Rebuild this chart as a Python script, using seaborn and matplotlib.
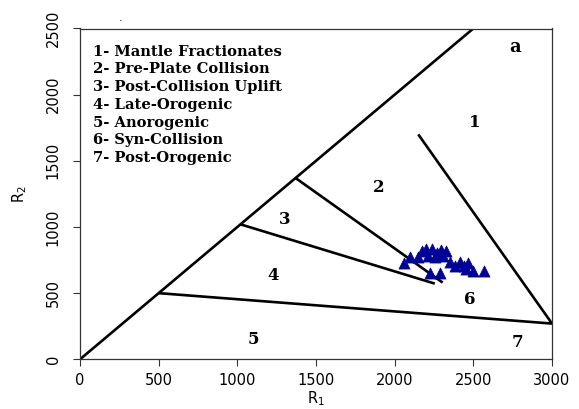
import matplotlib
matplotlib.use("Agg")
import matplotlib.pyplot as plt
import seaborn as sns
import pandas as pd

# Sample data (R1, R2)
r1_values = [2059, 2097, 2148, 2174, 2199, 2237, 2269, 2295, 2326, 2212, 2256, 2307,
             2225, 2288, 2383, 2415, 2441, 2466, 2453, 2498, 2568, 2352]
r2_values = [729, 775, 775, 820, 835, 835, 805, 827, 820, 782, 775, 782,
             653, 653, 706, 737, 706, 729, 684, 669, 669, 737]

# Field boundaries (R1 list, R2 list)
boundary_outer_r1 = [0, 2500]
boundary_outer_r2 = [0, 2500]
boundary_1_r1 = [2150, 3000]
boundary_1_r2 = [1700, 270]
boundary_2_r1 = [1370, 2305]
boundary_2_r2 = [1370, 580]
boundary_3_r1 = [1020, 2255]
boundary_3_r2 = [1020, 572]
boundary_4_r1 = [500, 3000]
boundary_4_r2 = [500, 270]

# Field labels
field_labels = ["1", "2", "3", "4", "5", "6", "7"]
field_label_r1 = [2511, 1900, 1303, 1225, 1104, 2480, 2779]
field_label_r2 = [1791, 1296, 1054, 630, 147, 454, 126]

legend_lines = ["1- Mantle Fractionates", "2- Pre-Plate Collision",
                "3- Post-Collision Uplift", "4- Late-Orogenic", "5- Anorogenic",
                "6- Syn-Collision", "7- Post-Orogenic"]

x_ticks = [0, 500, 1000, 1500, 2000, 2500, 3000]
y_ticks = [0, 500, 1000, 1500, 2000, 2500]

sns.set_style("ticks")
plt.rcParams['font.family'] = ['DejaVu Sans']
plt.rcParams['text.color'] = 'black'
plt.rcParams['axes.labelcolor'] = 'black'

fig = plt.figure(figsize=(5.79, 4.09), dpi=100)
ax = fig.add_axes([80/579, 1-359.3/409, (552-80)/579, (359.3-28.5)/409])

line_kw = dict(color="black", lw=1.9, solid_capstyle="butt", zorder=2)
for xs, ys in [(boundary_outer_r1, boundary_outer_r2), (boundary_1_r1, boundary_1_r2),
               (boundary_2_r1, boundary_2_r2), (boundary_3_r1, boundary_3_r2),
               (boundary_4_r1, boundary_4_r2)]:
    ax.plot(xs, ys, **line_kw)

df = pd.DataFrame({"R1": r1_values, "R2": r2_values})
sns.scatterplot(data=df, x="R1", y="R2", marker="^", s=64, color="#000099",
                edgecolor="#000099", linewidth=0.5, ax=ax, zorder=3)

for lab, xx, yy in zip(field_labels, field_label_r1, field_label_r2):
    ax.text(xx, yy, lab, ha="center", va="center", fontsize=12,
            family="DejaVu Serif", fontweight="bold", color="black")
ax.text(2765, 2357, "a", ha="center", va="center", fontsize=13,
        family="DejaVu Serif", fontweight="bold", color="black")

for i, t in enumerate(legend_lines):
    fig.text(93/579, 1 - (51.7 + 17.75*i)/409, t, ha="left", va="center",
             fontsize=10.6, family="DejaVu Serif", fontweight="bold", color="black")

fig.text(121/579, 1-18/409, ".", fontsize=8, ha="center", va="center", color="black")

ax.set_xlim(0, 3000)
ax.set_ylim(0, 2500)
ax.set_xticks(x_ticks)
ax.set_yticks(y_ticks)
ax.set_xticklabels([str(v) for v in x_ticks], fontsize=10.5)
ax.set_yticklabels([str(v) for v in y_ticks], fontsize=10.5, rotation=90, va="center")
ax.set_xlabel("R$_1$", fontsize=10.5, labelpad=0.5)
ax.set_ylabel("R$_2$", fontsize=10.5, labelpad=12)
ax.tick_params(axis="x", direction="out", length=5, width=0.8, colors="#333333",
               labelcolor="black", pad=5)
ax.tick_params(axis="y", direction="out", length=5, width=0.8, colors="#333333",
               labelcolor="black", pad=9)
for sp in ax.spines.values():
    sp.set_visible(True)
    sp.set_color("#333333")
    sp.set_linewidth(0.9)

fig.savefig("out.png", dpi=100)
